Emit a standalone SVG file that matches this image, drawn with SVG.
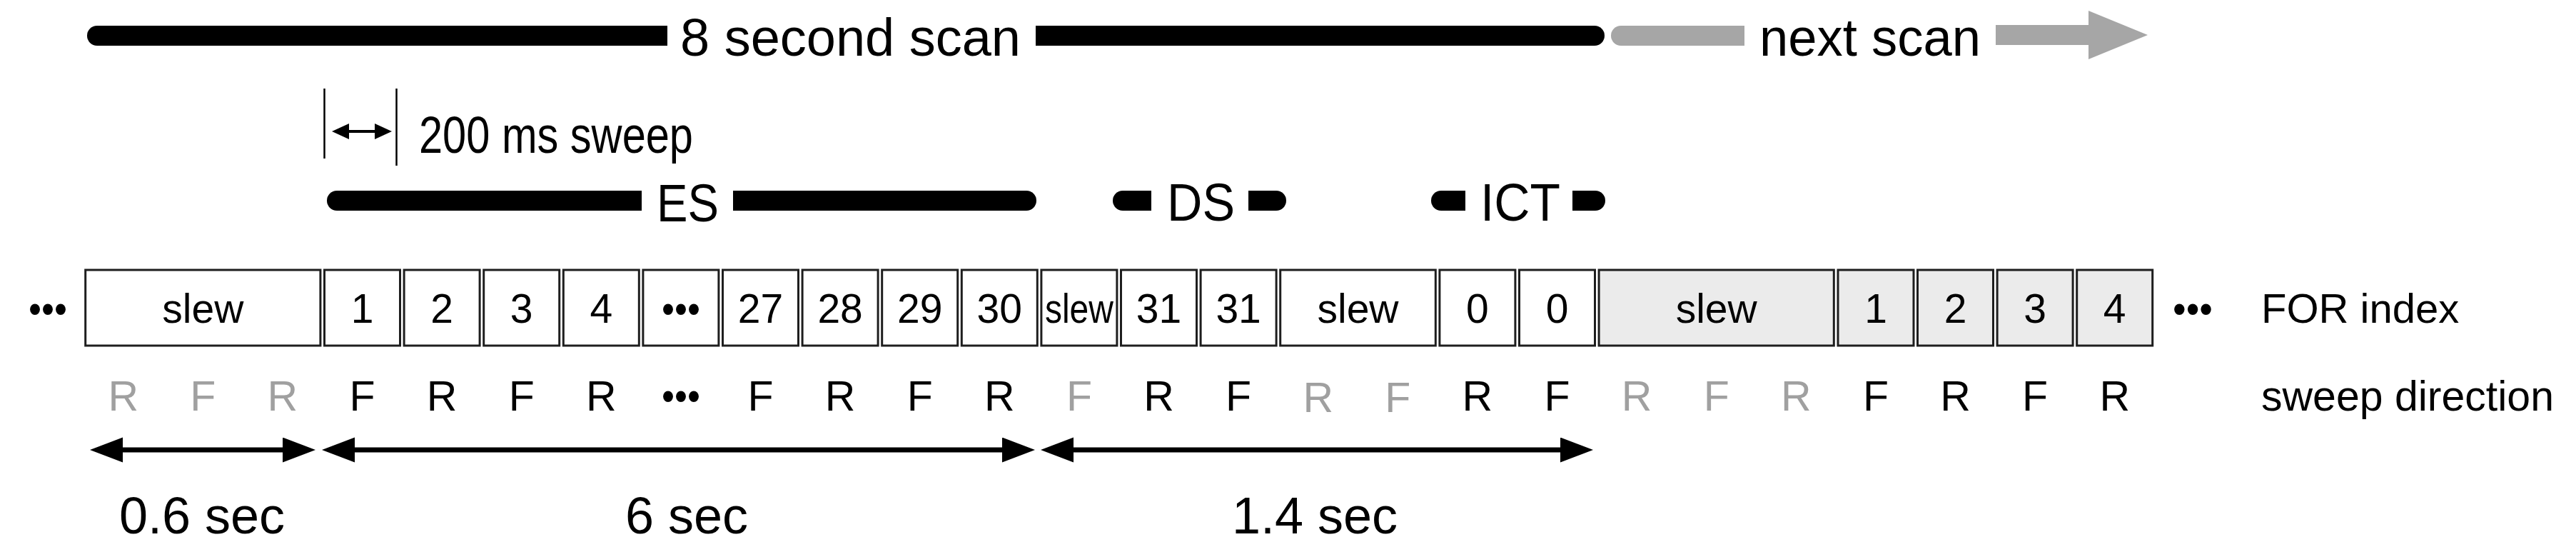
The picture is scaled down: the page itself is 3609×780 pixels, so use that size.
<svg xmlns="http://www.w3.org/2000/svg" width="3609" height="780" viewBox="0 0 3609 780">
<style>
text{font-family:"Liberation Sans",Arial,Helvetica,sans-serif;fill:#000}
.box{fill:#fff;stroke:#1e1e1e;stroke-width:3}
.gbox{fill:#ebebeb;stroke:#1e1e1e;stroke-width:3}
.num{font-size:57px;text-anchor:middle}
.dir{font-size:59px;text-anchor:middle}
.g{fill:#a0a0a0}
.big{font-size:74px}
.dur{font-size:72px;text-anchor:middle}
.bar{fill:#000}
.gbar{fill:#a6a6a6}
.conn{stroke:#000;stroke-width:7;fill:none}
</style>
<defs>
<marker id="ah" markerUnits="userSpaceOnUse" markerWidth="48" markerHeight="36" refX="6" refY="17.5" orient="auto-start-reverse" viewBox="0 0 48 36">
<path d="M0,0 L46,17.5 L0,35 Z" fill="#000"/>
</marker>
<marker id="sh" markerUnits="userSpaceOnUse" markerWidth="26" markerHeight="24" refX="4" refY="11" orient="auto-start-reverse" viewBox="0 0 26 24">
<path d="M0,0 L24,11 L0,22 Z" fill="#000"/>
</marker>
</defs>

<g id="scan-bar">
<path class="bar" d="M136,36 H935 V64 H136 A14,14 0 0 1 136,36 Z"/>
<text class="big" x="953" y="78" textLength="477" lengthAdjust="spacingAndGlyphs">8 second scan</text>
<path class="bar" d="M1451,36 H2234 A14,14 0 0 1 2234,64 H1451 Z"/>
</g>
<g id="next-scan">
<path class="gbar" d="M2271,36 H2444 V64 H2271 A14,14 0 0 1 2271,36 Z"/>
<text class="big" x="2465" y="78" textLength="310" lengthAdjust="spacingAndGlyphs">next scan</text>
<path class="gbar" d="M2796,35 H2926 V15 L3009,49 L2926,83 V63 H2796 Z"/>
</g>

<g id="sweep-marker">
<line x1="454.5" y1="124" x2="454.5" y2="222" stroke="#000" stroke-width="2.5"/>
<line x1="555.5" y1="124" x2="555.5" y2="232" stroke="#000" stroke-width="2.5"/>
<line x1="485" y1="184" x2="529" y2="184" stroke="#000" stroke-width="4" marker-start="url(#sh)" marker-end="url(#sh)"/>
<text x="587" y="214" style="font-size:72px" textLength="384" lengthAdjust="spacingAndGlyphs">200 ms sweep</text>
</g>

<g id="es-bar">
<path class="bar" d="M472,267 H899 V295 H472 A14,14 0 0 1 472,267 Z"/>
<text class="big" x="920" y="310" textLength="87" lengthAdjust="spacingAndGlyphs">ES</text>
<path class="bar" d="M1027,267 H1438 A14,14 0 0 1 1438,295 H1027 Z"/>
</g>
<g id="ds-bar">
<path class="bar" d="M1573,267 H1613 V295 H1573 A14,14 0 0 1 1573,267 Z"/>
<text class="big" x="1635" y="309" textLength="95" lengthAdjust="spacingAndGlyphs">DS</text>
<path class="bar" d="M1749,267 H1788 A14,14 0 0 1 1788,295 H1749 Z"/>
</g>
<g id="ict-bar">
<path class="bar" d="M2019,267 H2053 V295 H2019 A14,14 0 0 1 2019,267 Z"/>
<text class="big" x="2074" y="309" textLength="112" lengthAdjust="spacingAndGlyphs">ICT</text>
<path class="bar" d="M2203,267 H2235 A14,14 0 0 1 2235,295 H2203 Z"/>
</g>

<g id="for-row">
<text class="num" x="67" y="452" textLength="54" lengthAdjust="spacingAndGlyphs">•••</text>
<g id="box-slew-a"><rect class="box" x="119.7" y="378" width="329.2" height="106"/><text class="num" x="284.3" y="452">slew</text></g>
<g id="box-1a"><rect class="box" x="454.5" y="378" width="106" height="106"/><text class="num" x="507.5" y="452">1</text></g>
<g id="box-2a"><rect class="box" x="566.1" y="378" width="106" height="106"/><text class="num" x="619.1" y="452">2</text></g>
<g id="box-3a"><rect class="box" x="677.7" y="378" width="106" height="106"/><text class="num" x="730.7" y="452">3</text></g>
<g id="box-4a"><rect class="box" x="789.3" y="378" width="106" height="106"/><text class="num" x="842.3" y="452">4</text></g>
<g id="box-dots"><rect class="box" x="900.9" y="378" width="106" height="106"/><text class="num" x="953.9" y="452" textLength="54" lengthAdjust="spacingAndGlyphs">•••</text></g>
<g id="box-27"><rect class="box" x="1012.5" y="378" width="106" height="106"/><text class="num" x="1065.5" y="452">27</text></g>
<g id="box-28"><rect class="box" x="1124.1" y="378" width="106" height="106"/><text class="num" x="1177.1" y="452">28</text></g>
<g id="box-29"><rect class="box" x="1235.7" y="378" width="106" height="106"/><text class="num" x="1288.7" y="452">29</text></g>
<g id="box-30"><rect class="box" x="1347.3" y="378" width="106" height="106"/><text class="num" x="1400.3" y="452">30</text></g>
<g id="box-slew-b"><rect class="box" x="1458.9" y="378" width="106" height="106"/><text class="num" x="1511.9" y="452" textLength="96" lengthAdjust="spacingAndGlyphs">slew</text></g>
<g id="box-31a"><rect class="box" x="1570.5" y="378" width="106" height="106"/><text class="num" x="1623.5" y="452">31</text></g>
<g id="box-31b"><rect class="box" x="1682.1" y="378" width="106" height="106"/><text class="num" x="1735.1" y="452">31</text></g>
<g id="box-slew-c"><rect class="box" x="1793.7" y="378" width="217.6" height="106"/><text class="num" x="1902.5" y="452">slew</text></g>
<g id="box-0a"><rect class="box" x="2016.9" y="378" width="106" height="106"/><text class="num" x="2069.9" y="452">0</text></g>
<g id="box-0b"><rect class="box" x="2128.5" y="378" width="106" height="106"/><text class="num" x="2181.5" y="452">0</text></g>
<g id="box-slew-d"><rect class="gbox" x="2240.1" y="378" width="329.2" height="106"/><text class="num" x="2404.7" y="452">slew</text></g>
<g id="box-1b"><rect class="gbox" x="2575" y="378" width="106" height="106"/><text class="num" x="2628" y="452">1</text></g>
<g id="box-2b"><rect class="gbox" x="2686.5" y="378" width="106" height="106"/><text class="num" x="2739.5" y="452">2</text></g>
<g id="box-3b"><rect class="gbox" x="2798.1" y="378" width="106" height="106"/><text class="num" x="2851.1" y="452">3</text></g>
<g id="box-4b"><rect class="gbox" x="2909.7" y="378" width="106" height="106"/><text class="num" x="2962.7" y="452">4</text></g>
<text class="num" x="3072" y="452" textLength="56" lengthAdjust="spacingAndGlyphs">•••</text>
<text x="3168" y="452" style="font-size:58px">FOR index</text>
</g>

<g id="direction-row">
<text class="dir g" x="172.7" y="575">R</text>
<text class="dir g" x="284.3" y="575">F</text>
<text class="dir g" x="395.9" y="575">R</text>
<text class="dir" x="507.5" y="575">F</text>
<text class="dir" x="619.1" y="575">R</text>
<text class="dir" x="730.7" y="575">F</text>
<text class="dir" x="842.3" y="575">R</text>
<text class="num" x="953.9" y="574" textLength="54" lengthAdjust="spacingAndGlyphs">•••</text>
<text class="dir" x="1065.5" y="575">F</text>
<text class="dir" x="1177.1" y="575">R</text>
<text class="dir" x="1288.7" y="575">F</text>
<text class="dir" x="1400.3" y="575">R</text>
<text class="dir g" x="1511.9" y="575">F</text>
<text class="dir" x="1623.5" y="575">R</text>
<text class="dir" x="1735.1" y="575">F</text>
<text class="dir g" x="1846.7" y="577">R</text>
<text class="dir g" x="1958.3" y="577">F</text>
<text class="dir" x="2069.9" y="575">R</text>
<text class="dir" x="2181.5" y="575">F</text>
<text class="dir g" x="2293.1" y="575">R</text>
<text class="dir g" x="2404.7" y="575">F</text>
<text class="dir g" x="2516.3" y="575">R</text>
<text class="dir" x="2628" y="575">F</text>
<text class="dir" x="2739.5" y="575">R</text>
<text class="dir" x="2851.1" y="575">F</text>
<text class="dir" x="2962.7" y="575">R</text>
<text x="3168" y="575" style="font-size:59px">sweep direction</text>
</g>

<g id="connectors">
<line class="conn" x1="166" y1="630" x2="402" y2="630" marker-start="url(#ah)" marker-end="url(#ah)"/>
<line class="conn" x1="491" y1="630" x2="1410" y2="630" marker-start="url(#ah)" marker-end="url(#ah)"/>
<line class="conn" x1="1498" y1="630" x2="2192" y2="630" marker-start="url(#ah)" marker-end="url(#ah)"/>
</g>

<g id="durations">
<text class="dur" x="283" y="747">0.6 sec</text>
<text class="dur" x="962" y="747">6 sec</text>
<text class="dur" x="1842" y="747">1.4 sec</text>
</g>
</svg>
